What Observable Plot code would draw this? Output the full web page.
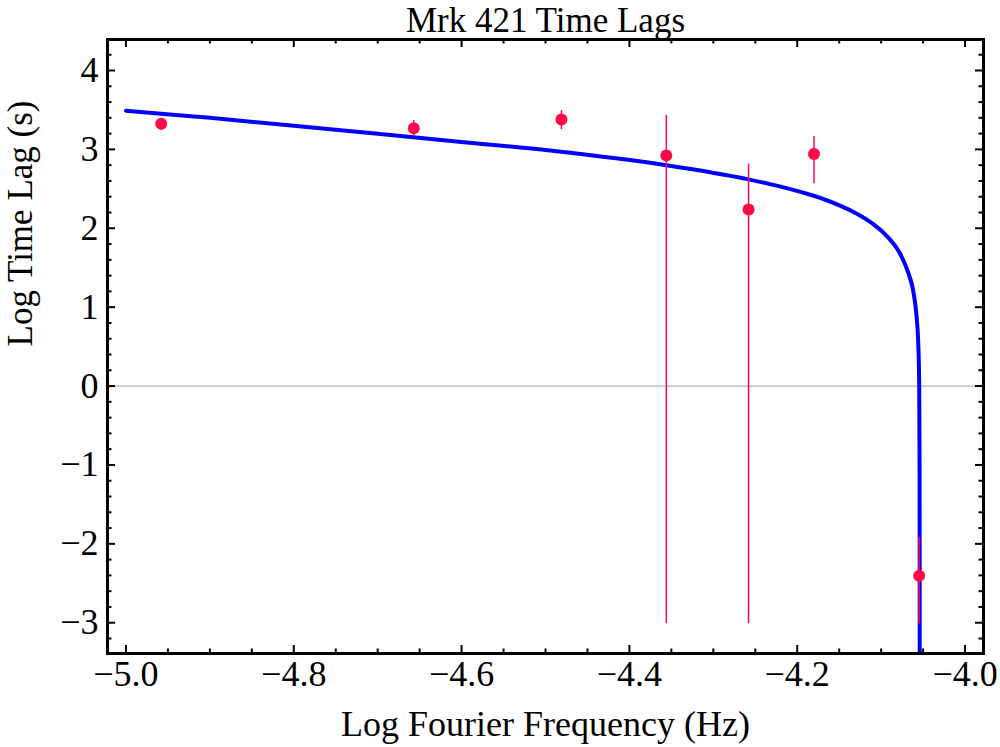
<!DOCTYPE html>
<html><head><meta charset="utf-8">
<script src="https://cdn.jsdelivr.net/npm/d3@7"></script>
<script src="https://cdn.jsdelivr.net/npm/@observablehq/plot@0.6"></script>
<style>body{margin:0;background:#fff}</style>
</head><body><div id="chart"></div>
<script>
const title = "Mrk 421 Time Lags";
const xLabel = "Log Fourier Frequency (Hz)";
const yLabel = "Log Time Lag (s)";

// observed lags (log f, log tau) with error bar ends
const lagFreq  = [-4.958, -4.657, -4.481, -4.356, -4.258, -4.180, -4.0547];
const lagValue = [3.324, 3.268, 3.378, 2.922, 2.237, 2.943, -2.404];
const lagLow   = [3.239, 3.162, 3.251, -3.013, -3.013, 2.563, -3.017];
const lagHigh  = [3.387, 3.365, 3.492, 3.43, 2.816, 3.163, -1.915];

// model curve
const modelFreq = [-5.0, -4.9, -4.8, -4.7, -4.6, -4.4946, -4.356, -4.258, -4.1795, -4.1498, -4.13, -4.11, -4.09, -4.0785, -4.0646, -4.06, -4.0567, -4.0553, -4.0546, -4.0542, -4.0540];
const modelLag  = [3.49, 3.40, 3.30, 3.197, 3.095, 2.985, 2.80, 2.62, 2.409, 2.291, 2.191, 2.058, 1.866, 1.699, 1.336, 1.09, 0.745, 0.40, 0.0, -1.0, -4.0];

// ticks
const xMajor = [-5.0, -4.8, -4.6, -4.4, -4.2, -4.0];
const xMinor = [-4.95, -4.9, -4.85, -4.75, -4.7, -4.65, -4.55, -4.5, -4.45, -4.35, -4.3, -4.25, -4.15, -4.1, -4.05];
const yMajor = [-3, -2, -1, 0, 1, 2, 3, 4];
const yMinor = [-3.2, -2.8, -2.6, -2.4, -2.2, -1.8, -1.6, -1.4, -1.2, -0.8, -0.6, -0.4, -0.2, 0.2, 0.4, 0.6, 0.8, 1.2, 1.4, 1.6, 1.8, 2.2, 2.4, 2.6, 2.8, 3.2, 3.4, 3.6, 3.8, 4.2];

const points = lagFreq.map((x, i) => ({x, y: lagValue[i], lo: lagLow[i], hi: lagHigh[i]}));
const model = modelFreq.map((x, i) => ({x, y: modelLag[i]}));

const W = 1000, H = 747, mL = 107, mR = 17, mT = 39, mB = 94;
const fw = W - mL - mR, fh = H - mT - mB;
const red = "#ff0a47";
const fmtX = d => (d < 0 ? "\u2212" : "") + Math.abs(d).toFixed(1);
const fmtY = d => (d < 0 ? "\u2212" : "") + Math.abs(d);

const chart = Plot.plot({
  width: W, height: H,
  marginLeft: mL, marginRight: mR, marginTop: mT, marginBottom: mB,
  style: {fontFamily: "Liberation Serif", background: "white", color: "black"},
  x: {domain: [-5.022, -3.978], axis: null},
  y: {domain: [-3.39, 4.393], axis: null},
  marks: [
    Plot.ruleY([0], {stroke: "#b3b3b3", strokeWidth: 1.2}),
    Plot.line(model, {x: "x", y: "y", stroke: "#0000ff", strokeWidth: 4, curve: "catmull-rom", clip: true}),
    Plot.ruleX(points, {x: "x", y1: "lo", y2: "hi", stroke: red, strokeWidth: 1.5, clip: true}),
    Plot.dot(points, {x: "x", y: "y", r: 6, fill: red, stroke: "none"}),
    // ticks (inward, all four sides)
    Plot.ruleX(xMajor, {x: d => d, insetTop: fh - 8, stroke: "black", strokeWidth: 2}),
    Plot.ruleX(xMajor, {x: d => d, insetBottom: fh - 8, stroke: "black", strokeWidth: 2}),
    Plot.ruleX(xMinor, {x: d => d, insetTop: fh - 4.5, stroke: "black", strokeWidth: 2}),
    Plot.ruleX(xMinor, {x: d => d, insetBottom: fh - 4.5, stroke: "black", strokeWidth: 2}),
    Plot.ruleY(yMajor, {y: d => d, insetRight: fw - 8, stroke: "black", strokeWidth: 2}),
    Plot.ruleY(yMajor, {y: d => d, insetLeft: fw - 8, stroke: "black", strokeWidth: 2}),
    Plot.ruleY(yMinor, {y: d => d, insetRight: fw - 4.5, stroke: "black", strokeWidth: 2}),
    Plot.ruleY(yMinor, {y: d => d, insetLeft: fw - 4.5, stroke: "black", strokeWidth: 2}),
    Plot.frame({stroke: "black", strokeWidth: 3}),
    // tick labels
    Plot.text(xMajor, {x: d => d, frameAnchor: "bottom", lineAnchor: "top", dy: 7, text: fmtX, fontSize: 36, fill: "black"}),
    Plot.text(yMajor, {y: d => d, frameAnchor: "left", textAnchor: "end", lineAnchor: "middle", dx: -9, text: fmtY, fontSize: 36, fill: "black"}),
    // labels
    Plot.text([xLabel], {frameAnchor: "bottom", lineAnchor: "bottom", dy: 82, text: d => d, fontSize: 36, fill: "black"}),
    Plot.text([yLabel], {frameAnchor: "left", lineAnchor: "bottom", rotate: -90, dx: -76, text: d => d, fontSize: 35, fill: "black"}),
    Plot.text([title], {frameAnchor: "top", lineAnchor: "bottom", dy: -8, text: d => d, fontSize: 35, fill: "black"})
  ]
});
document.getElementById("chart").appendChild(chart);
</script>
</body></html>
